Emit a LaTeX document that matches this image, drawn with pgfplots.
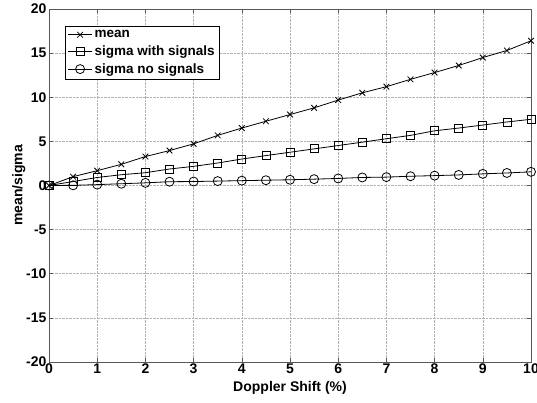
\documentclass[border=0pt]{standalone}
\usepackage{pgfplots}
\pgfplotsset{compat=1.18}
\usepackage{fontspec}
\setmainfont{Liberation Sans}
\begin{document}
\begin{tikzpicture}[x=1pt,y=1pt]
\path[use as bounding box] (-49,-40) rectangle (488,362);
\begin{axis}[
  at={(0,0)}, anchor=south west,
  scale only axis, width=482pt, height=353pt,
  xmin=0, xmax=10, ymin=-20, ymax=20,
  xtick={0,1,...,10}, ytick={-20,-15,...,20},
  grid=major,
  major grid style={densely dotted, gray!60, line width=0.6pt},
  axis line style={gray!70!black, line width=0.9pt},
  tick style={gray!70!black, line width=0.6pt},
  tick align=inside, major tick length=4pt,
  font=\fontsize{14}{16}\selectfont\bfseries,
  /pgf/number format/assume math mode=true,
  ticklabel style={font=\fontsize{14}{16}\selectfont\bfseries},
  xticklabel style={yshift=2pt},
  yticklabel style={xshift=1pt},
  xlabel={Doppler Shift (\%)},
  ylabel={mean/sigma},
  xlabel style={yshift=-1pt},
  ylabel style={yshift=-6pt},
  legend style={at={(0.033,0.953)}, anchor=north west, draw=black, line width=0.6pt,
     font=\fontsize{13.5}{15}\selectfont\bfseries, row sep=2.5pt, inner sep=2.5pt},
  legend cell align=left,
  legend image code/.code={\draw[mark repeat=2,mark phase=2] plot coordinates {(0pt,0pt)(12pt,0pt)(24pt,0pt)};},
]
\addplot[black, line width=0.8pt, mark=x, mark size=4pt] coordinates {
(0,0) (0.5,1.0) (1,1.68) (1.5,2.4) (2,3.28) (2.5,3.96) (3,4.72) (3.5,5.68) (4,6.51) (4.5,7.28)
(5,8.04) (5.5,8.8) (6,9.68) (6.5,10.5) (7,11.2) (7.5,12.03) (8,12.8) (8.5,13.6) (9,14.5) (9.5,15.3) (10,16.4)};
\addlegendentry{mean}
\addplot[black, line width=0.8pt, mark=square, mark size=4pt, mark options={solid}] coordinates {
(0,0) (0.5,0.45) (1,0.91) (1.5,1.22) (2,1.45) (2.5,1.87) (3,2.17) (3.5,2.55) (4,3.0) (4.5,3.39)
(5,3.77) (5.5,4.15) (6,4.53) (6.5,4.91) (7,5.3) (7.5,5.68) (8,6.2) (8.5,6.51) (9,6.85) (9.5,7.2) (10,7.5)};
\addlegendentry{sigma with signals}
\addplot[black, line width=0.8pt, mark=o, mark size=4.5pt] coordinates {
(0,0) (0.5,0.02) (1,0.1) (1.5,0.2) (2,0.3) (2.5,0.43) (3,0.45) (3.5,0.5) (4,0.55) (4.5,0.6)
(5,0.65) (5.5,0.72) (6,0.8) (6.5,0.91) (7,0.95) (7.5,1.05) (8,1.12) (8.5,1.2) (9,1.32) (9.5,1.42) (10,1.55)};
\addlegendentry{sigma no signals}
\end{axis}
\end{tikzpicture}
\end{document}
